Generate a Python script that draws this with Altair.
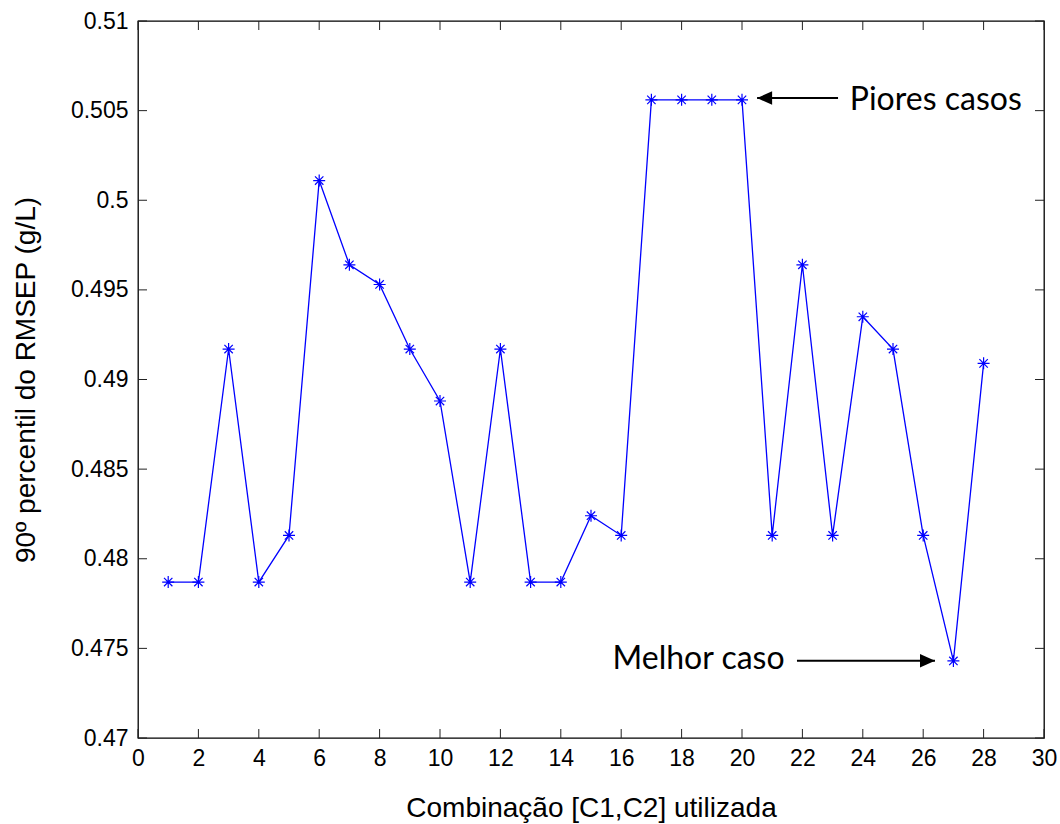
import altair as alt
import pandas as pd

# ---- data ----
combo = list(range(1, 29))
rmsep = [0.4787, 0.4787, 0.4917, 0.4787, 0.4813, 0.5011, 0.4964, 0.4953, 0.4917, 0.4888,
         0.4787, 0.4917, 0.4787, 0.4787, 0.4824, 0.4813, 0.5056, 0.5056, 0.5056, 0.5056,
         0.4813, 0.4964, 0.4813, 0.4935, 0.4917, 0.4813, 0.4743, 0.4909]

x_ticks = list(range(0, 31, 2))
y_ticks = [0.47, 0.475, 0.48, 0.485, 0.49, 0.495, 0.5, 0.505, 0.51]

ann_text = ["Piores casos", "Melhor caso"]
ann_text_x = [23.57, 21.41]
ann_text_y = [0.50503, 0.47383]
arrow_tail_x = [23.18, 21.82]
arrow_tip_x = [20.50, 26.39]
arrow_y = [0.50570, 0.47431]
arrow_dir = ["left", "right"]

W, H = 906, 717
TICK = 9
FONT = "Liberation Sans"

df = pd.DataFrame({"combo": combo, "rmsep": rmsep})
xt = pd.DataFrame({"combo": x_ticks})
yt = pd.DataFrame({"rmsep": y_ticks})
arrows = pd.DataFrame({"combo": arrow_tail_x, "x2": arrow_tip_x, "rmsep": arrow_y, "dir": arrow_dir})
heads = pd.DataFrame({"combo": arrow_tip_x, "rmsep": arrow_y, "dir": arrow_dir})

xscale = alt.Scale(domain=[0, 30], nice=False, zero=False)
yscale = alt.Scale(domain=[0.47, 0.51], nice=False, zero=False)
xaxis = alt.Axis(title="Combinação [C1,C2] utilizada", values=x_ticks,
                 domain=False, ticks=False, tickSize=0, grid=False, labelFlush=False,
                 labelPadding=9, titlePadding=24)
yaxis = alt.Axis(title="90º percentil do RMSEP (g/L)", values=y_ticks, format=".3~f",
                 domain=False, ticks=False, tickSize=0, grid=False, labelFlush=False,
                 labelPadding=10, titlePadding=30)


def X():
    return alt.X("combo:Q", scale=xscale, axis=xaxis)


def Y():
    return alt.Y("rmsep:Q", scale=yscale, axis=yaxis)


asterisk = "M-1,0L1,0M0,-1L0,1M-0.7,-0.7L0.7,0.7M-0.7,0.7L0.7,-0.7"
head_left = "M0,0L2,-0.9L2,0.9Z"
head_right = "M0,0L-2,-0.9L-2,0.9Z"

line = alt.Chart(df).mark_line(color="#0000ff", strokeWidth=1.3).encode(x=X(), y=Y())

pts = alt.Chart(df).mark_point(shape=asterisk, filled=False, color="#0000ff",
                               size=144, strokeWidth=1.2, opacity=1).encode(x=X(), y=Y())

tick_col = "#222222"
tick_bottom = alt.Chart(xt).mark_rule(color=tick_col, strokeWidth=1).encode(
    x=X(), y=alt.value(H), y2=alt.value(H - TICK))
tick_top = alt.Chart(xt).mark_rule(color=tick_col, strokeWidth=1).encode(
    x=X(), y=alt.value(0), y2=alt.value(TICK))
tick_left = alt.Chart(yt).mark_rule(color=tick_col, strokeWidth=1).encode(
    y=Y(), x=alt.value(0), x2=alt.value(TICK))
tick_right = alt.Chart(yt).mark_rule(color=tick_col, strokeWidth=1).encode(
    y=Y(), x=alt.value(W), x2=alt.value(W - TICK))

arrow_lines = alt.Chart(arrows).mark_rule(color="black", strokeWidth=2).encode(
    x=X(), x2="x2:Q", y=Y())
arrow_heads = alt.Chart(heads).mark_point(filled=True, color="black", size=225,
                                          strokeWidth=0, opacity=1).encode(
    x=X(), y=Y(),
    shape=alt.Shape("dir:N", scale=alt.Scale(domain=["left", "right"],
                                             range=[head_left, head_right]), legend=None),
)

t1 = alt.Chart(pd.DataFrame({"combo": [ann_text_x[0]], "rmsep": [ann_text_y[0]], "s": [ann_text[0]]})).mark_text(
    align="left", baseline="alphabetic", font="Lato", fontSize=32, color="black").encode(
    x=X(), y=Y(), text="s:N")
t2 = alt.Chart(pd.DataFrame({"combo": [ann_text_x[1]], "rmsep": [ann_text_y[1]], "s": [ann_text[1]]})).mark_text(
    align="right", baseline="alphabetic", font="Lato", fontSize=32, color="black").encode(
    x=X(), y=Y(), text="s:N")

chart = alt.layer(
    line, tick_bottom, tick_top, tick_left, tick_right, pts, arrow_lines, arrow_heads, t1, t2
).properties(
    width=W, height=H,
    autosize=alt.AutoSizeParams(type="none"),
    padding={"left": 138, "top": 21, "right": 16, "bottom": 86},
    background="white",
).configure_view(
    stroke="black", strokeWidth=1.3
).configure_axis(
    labelFont=FONT, labelFontSize=23, labelColor="black",
    titleFont=FONT, titleFontSize=28, titleColor="black", titleFontWeight="normal",
)

chart.save("out.html", embed_options={"renderer": "svg", "actions": False})
